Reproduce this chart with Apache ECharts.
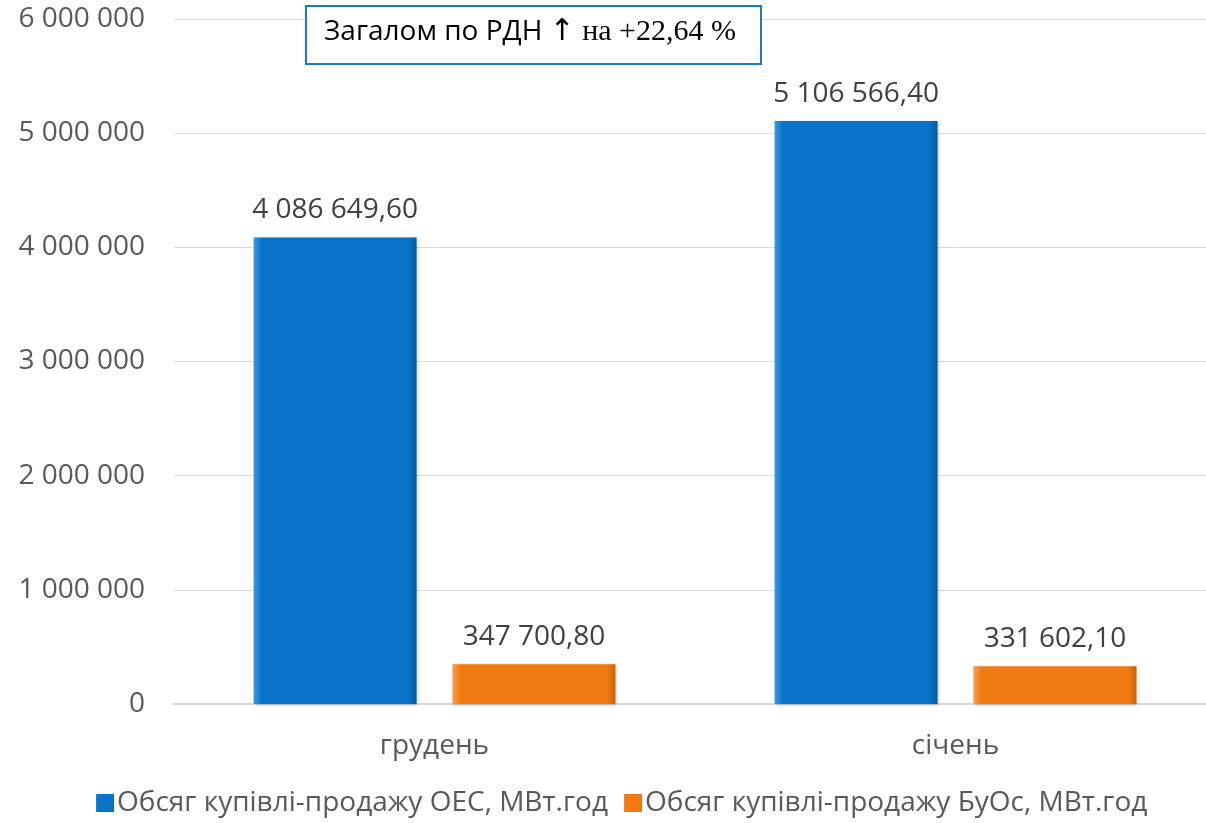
<!DOCTYPE html>
<html>
<head>
<meta charset="utf-8">
<script src="https://cdn.jsdelivr.net/npm/echarts@6/dist/echarts.min.js"></script>
<style>
html,body{margin:0;padding:0;background:#fff;overflow:hidden;width:1206px;height:823px;}
#chart{width:1216px;height:823px;}
</style>
</head>
<body>
<div id="chart"></div>
<script>
const categories = ['грудень', 'січень'];
const seriesNames = ['Обсяг купівлі-продажу ОЕС, МВт.год', 'Обсяг купівлі-продажу БуОс, МВт.год'];
const oesValues = [4086649.60, 5106566.40];
const buosValues = [347700.80, 331602.10];
const annotationSans = 'Загалом по РДН ';
const annotationArrow = '↑';
const annotationSerif = ' на +22,64 %';

function fmtTick(v) {
  return String(Math.round(v)).replace(/\B(?=(\d{3})+(?!\d))/g, ' ');
}
function fmtLabel(v) {
  const parts = v.toFixed(2).split('.');
  return parts[0].replace(/\B(?=(\d{3})+(?!\d))/g, ' ') + ',' + parts[1];
}

function barGrad(light, main, dark) {
  return {
    type: 'linear', x: 0, y: 0, x2: 1, y2: 0,
    colorStops: [
      {offset: 0, color: light},
      {offset: 0.05, color: main},
      {offset: 0.95, color: main},
      {offset: 1, color: dark}
    ]
  };
}

const chart = echarts.init(document.getElementById('chart'), null, {renderer: 'canvas'});
const font = '"Open Sans", "Noto Sans", sans-serif';
chart.setOption({
  animation: false,
  textStyle: {fontFamily: font},
  grid: {left: 174, top: 19, right: 0, bottom: 119, containLabel: false},
  legend: {
    bottom: 1,
    left: 91,
    itemWidth: 18,
    itemHeight: 18,
    itemGap: 16,
    textStyle: {fontSize: 28, color: '#595959', fontFamily: font, padding: [0, 0, 0, -2]},
    data: [
      {name: seriesNames[0], icon: 'rect'},
      {name: seriesNames[1], icon: 'rect'}
    ]
  },
  xAxis: {
    type: 'category',
    data: categories,
    axisLine: {show: true, lineStyle: {color: '#d9d9d9', width: 2}},
    axisTick: {show: false},
    axisLabel: {fontSize: 28, color: '#595959', margin: 28, fontFamily: font}
  },
  yAxis: {
    type: 'value',
    min: 0,
    max: 6000000,
    interval: 1000000,
    axisLine: {show: false},
    axisTick: {show: false},
    splitLine: {lineStyle: {color: '#d9d9d9', width: 1}},
    axisLabel: {fontSize: 28, color: '#595959', margin: 29, fontFamily: font, formatter: fmtTick}
  },
  series: [
    {
      name: seriesNames[0],
      type: 'bar',
      data: oesValues,
      barWidth: 163,
      barGap: '22%',
      itemStyle: {
        color: barGrad('#3d9ae0', '#0a73c7', '#065a9e'),
        shadowColor: 'rgba(0,0,0,0.25)', shadowBlur: 3, shadowOffsetX: 1, shadowOffsetY: 1
      },
      label: {
        show: true, position: 'top', distance: 13,
        fontSize: 28, color: '#404040', fontFamily: font,
        formatter: p => fmtLabel(p.value)
      }
    },
    {
      name: seriesNames[1],
      type: 'bar',
      data: buosValues,
      barWidth: 163,
      itemStyle: {
        color: barGrad('#f8a050', '#f27a12', '#c9620a'),
        shadowColor: 'rgba(0,0,0,0.25)', shadowBlur: 3, shadowOffsetX: 1, shadowOffsetY: 1
      },
      label: {
        show: true, position: 'top', distance: 13,
        fontSize: 28, color: '#404040', fontFamily: font,
        formatter: p => fmtLabel(p.value)
      }
    }
  ],
  graphic: [
    {
      type: 'rect',
      left: 305, top: 5,
      shape: {width: 455, height: 58},
      style: {fill: '#fff', stroke: '#1f77c8', lineWidth: 2},
      z: 100
    },
    {
      type: 'text',
      left: 324, top: 17,
      z: 101,
      style: {
        text: '{a|' + annotationSans + '}{c|' + annotationArrow + '}{b|' + annotationSerif + '}',
        rich: {
          a: {fontFamily: font, fontSize: 28, fill: '#000', color: '#000'},
          c: {fontFamily: '"DejaVu Sans", sans-serif', fontSize: 30, fill: '#000', color: '#000'},
          b: {fontFamily: '"Liberation Serif", "DejaVu Serif", serif', fontSize: 30, fill: '#000', color: '#000'}
        }
      }
    }
  ]
});
</script>
</body>
</html>
